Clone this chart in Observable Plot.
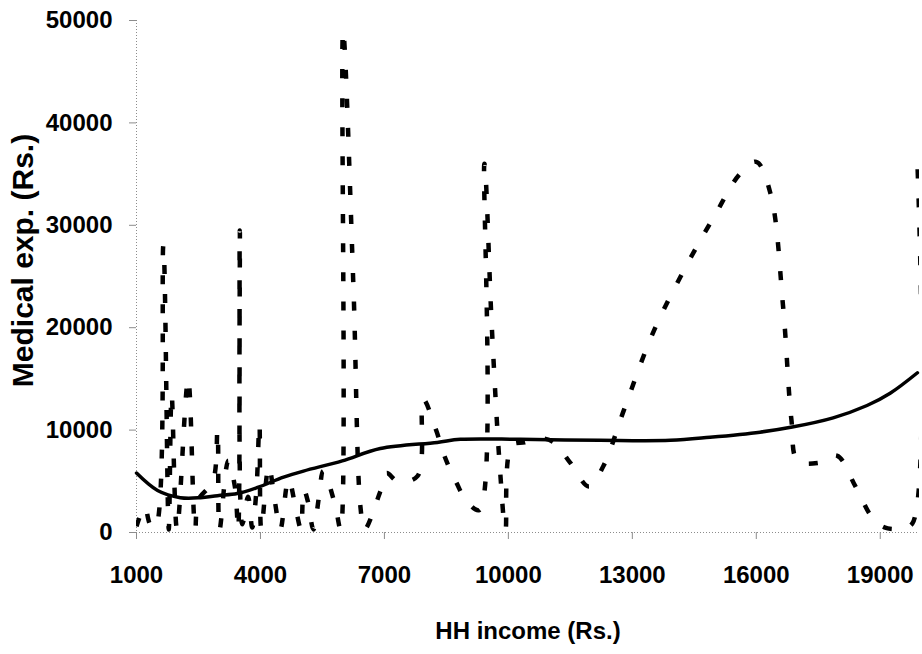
<!DOCTYPE html>
<html>
<head>
<meta charset="utf-8">
<script src="https://cdn.jsdelivr.net/npm/d3@7"></script>
<script src="https://cdn.jsdelivr.net/npm/@observablehq/plot@0.6"></script>
<style>
html, body { margin: 0; padding: 0; background: #fff; }
#chart svg text { fill: #000; }
</style>
</head>
<body>
<div id="chart"></div>
<script>
// Dashed series: individual household points (HH income vs medical expenditure)
const pointIncome = [
  1000, 1200, 1330, 1460, 1650, 1780, 1850, 1980, 2250, 2420,
  2500, 2850, 2960, 3010, 3220, 3380, 3460, 3500, 3560, 3700,
  3800, 3900, 3975, 4020, 4200, 4350, 4480, 4680, 4880, 4980,
  5050, 5150, 5280, 5420, 5520, 5800, 5940, 6000, 6250, 6420,
  6520, 6900, 7050, 7320, 7800, 7940, 8250, 8450, 8750, 9000,
  9300, 9420, 9600, 9800, 9930, 10080, 10400, 10800, 11100, 11500,
  11950, 12300, 12800, 13500, 14300, 15000, 15600, 16000, 16350, 16650,
  16850, 17000, 17500, 17950, 18400, 18800, 19100, 19500, 19780, 19900
];
const pointExp = [
  600, 2500, 800, 500, 28000, 300, 13500, 300, 15000, 300,
  3200, 5000, 10000, 300, 7000, 4500, 300, 29500, 800, 3500,
  500, 4000, 10600, 300, 6500, 3000, 300, 5200, 1800, 300,
  4200, 3000, 300, 3600, 6000, 2800, 300, 49000, 24000, 2500,
  300, 4000, 5800, 5000, 5500, 13000, 10000, 7500, 4800, 3000,
  2200, 36000, 20000, 6000, 300, 8500, 8800, 9200, 8800, 6800,
  4500, 6500, 12000, 19500, 26000, 31000, 35000, 36200, 33000, 22000,
  11000, 7000, 6800, 7500, 4500, 1500, 500, 400, 900, 36000
];

// Solid series: fitted trend
const trendIncome = [
  1000, 1510, 2060, 2550, 2960, 3440, 3930, 4560, 5040, 5980,
  6900, 8280, 8840, 10290, 12220, 13920, 14880, 16090, 16870, 17860,
  18680, 19240, 19900
];
const trendExp = [
  5800, 4100, 3400, 3400, 3600, 3800, 4400, 5400, 6000, 7000,
  8200, 8800, 9100, 9100, 9000, 9000, 9300, 9800, 10300, 11200,
  12400, 13600, 15600
];

const xTicks = [1000, 4000, 7000, 10000, 13000, 16000, 19000];
const yTicks = [0, 10000, 20000, 30000, 40000, 50000];
const xTitle = "HH income (Rs.)";
const yTitle = "Medical exp. (Rs.)";

const points = pointIncome.map((x, i) => ({x, y: pointExp[i]}));
const trend = trendIncome.map((x, i) => ({x, y: trendExp[i]}));

const chart = Plot.plot({
  width: 922,
  height: 654,
  marginTop: 20,
  marginBottom: 122,
  marginLeft: 136,
  marginRight: 3,
  style: {
    background: "#fff",
    color: "#8c8c8c",
    fontFamily: "'Liberation Sans', Arial, sans-serif",
    fontSize: "24px",
    fontWeight: "bold"
  },
  x: {domain: [1000, 19950], ticks: xTicks, tickFormat: d => String(d), tickSize: 7, tickPadding: 26, label: null},
  y: {domain: [0, 50000], ticks: yTicks, tickFormat: d => String(d), tickSize: 7, tickPadding: 17, label: null},
  marks: [
    Plot.ruleX([1000], {stroke: "#8c8c8c", strokeWidth: 1, strokeDasharray: "1,2"}),
    Plot.ruleY([0], {stroke: "#8c8c8c", strokeWidth: 1, strokeDasharray: "1,2"}),
    Plot.line(points, {x: "x", y: "y", curve: "catmull-rom", stroke: "#000", strokeWidth: 4.5, strokeDasharray: "9,20", strokeLinecap: "butt", clip: true}),
    Plot.line(trend, {x: "x", y: "y", curve: "catmull-rom", stroke: "#000", strokeWidth: 3.5}),
    Plot.text([xTitle], {text: d => d, frameAnchor: "bottom", dy: 106, fontSize: 24, fontWeight: "bold", fill: "#000"}),
    Plot.text([yTitle], {text: d => d, frameAnchor: "left", textAnchor: "middle", dx: -113, dy: -16, rotate: -90, fontSize: 30, fontWeight: "bold", fill: "#000"})
  ]
});
document.getElementById("chart").appendChild(chart);
</script>
</body>
</html>
